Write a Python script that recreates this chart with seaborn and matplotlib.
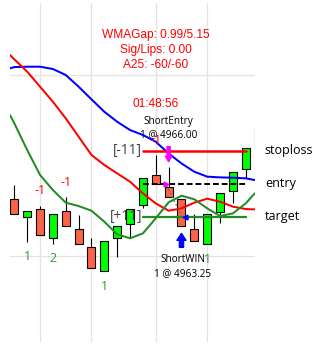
import numpy as np
import pandas as pd
import matplotlib
matplotlib.use("Agg")
import matplotlib.pyplot as plt
import seaborn as sns

# ---------------- data ----------------
opens  = [4964.71, 4963.21, 4963.93, 4961.47, 4963.74, 4962.21, 4960.72, 4958.75, 4961.47, 4962.66,
          4964.23, 4966.73, 4965.70, 4964.71, 4962.21, 4960.97, 4963.68, 4965.42, 4967.20, 4969.16]
closes = [4963.46, 4963.74, 4961.72, 4963.46, 4962.49, 4961.00, 4959.00, 4961.25, 4962.46, 4963.93,
          4966.45, 4965.98, 4964.93, 4962.49, 4961.25, 4963.46, 4965.20, 4966.95, 4968.94, 4970.74]
highs  = [4965.90, 4963.74, 4964.15, 4963.46, 4964.93, 4963.40, 4961.47, 4961.25, 4962.46, 4963.93,
          4966.45, 4968.39, 4967.42, 4964.71, 4963.50, 4963.46, 4965.20, 4966.95, 4968.94, 4970.74]
lows   = [4963.46, 4961.19, 4961.72, 4960.97, 4962.49, 4961.00, 4959.00, 4958.75, 4959.94, 4961.47,
          4963.96, 4965.98, 4964.93, 4962.49, 4961.25, 4960.97, 4962.71, 4964.43, 4966.45, 4969.16]

ma_x = [-0.34, 0, 1, 2, 3, 4, 5, 6, 7, 8, 9, 10, 11, 12, 13, 14, 15, 16, 17, 18, 18.70]
ma_blue  = [4975.58, 4975.69, 4975.72, 4975.72, 4975.53, 4975.03, 4974.06, 4973.01, 4971.98, 4971.15,
            4970.46, 4970.05, 4969.49, 4968.52, 4967.69, 4967.00, 4966.59, 4966.53, 4966.50, 4966.45, 4966.31]
ma_red   = [4976.69, 4976.33, 4975.31, 4974.06, 4972.81, 4971.43, 4969.91, 4968.39, 4967.56, 4966.86,
            4966.17, 4965.20, 4964.37, 4963.76, 4963.96, 4964.43, 4964.76, 4964.51, 4964.10, 4963.90, 4963.87]
ma_green = [4971.71, 4971.02, 4968.80, 4966.73, 4965.48, 4964.43, 4964.15, 4963.76, 4962.85, 4961.80,
            4961.47, 4961.88, 4963.13, 4964.46, 4965.01, 4964.71, 4963.96, 4963.32, 4963.54, 4964.37, 4965.20]

entry_price = 4966.00
stop_price = 4968.75
target_price = 4963.25
level_start, level_end = 10.0, 18.0

info_lines = ["WMAGap: 0.99/5.15", "Sig/Lips: 0.00", "A25: -60/-60"]
clock_text = "01:48:56"

green_labels = [(1, 4959.94, "1"), (3, 4959.81, "2"), (7, 4957.45, "1"), (15, 4959.67, "1")]
red_labels = [(2, 4965.42, "-1"), (4, 4966.09, "-1"), (11, 4969.63, "-1")]

grid_x = [2, 6, 11, 15]
grid_y = [4960, 4975]

# ---------------- figure ----------------
sns.set_style("white")
plt.rcParams["font.family"] = ["Open Sans", "DejaVu Sans"]

fig = plt.figure(figsize=(3.25, 3.45), dpi=100)
ax = fig.add_axes([10/325, 3/345, 245/325, 339/345])
ax.set_xlim(-0.337, 18.72)
ax.set_ylim(4952.86, 4981.01)

ax.set_xticks(grid_x)
ax.set_yticks(grid_y)
ax.grid(True, color="#e3e3e3", lw=0.9)
ax.tick_params(length=0, labelbottom=False, labelleft=False)
for s in ax.spines.values():
    s.set_visible(False)
ax.set_axisbelow(True)

# candles
idx = np.arange(len(opens))
o = np.array(opens); c = np.array(closes)
ax.vlines(idx, lows, highs, color="black", lw=0.8, zorder=2)
bull = c >= o
colors = np.where(bull, "#00ff00", "#ff6347")
ax.bar(idx, np.abs(c - o), bottom=np.minimum(o, c), width=0.62, color=colors,
       edgecolor="black", linewidth=0.8, zorder=3)

# moving averages
df = pd.DataFrame({"x": ma_x, "blue": ma_blue, "red": ma_red, "green": ma_green})
sns.lineplot(data=df, x="x", y="blue", color="#0000ff", lw=1.45, ax=ax, zorder=4)
sns.lineplot(data=df, x="x", y="red", color="#ff0000", lw=1.45, ax=ax, zorder=4)
sns.lineplot(data=df, x="x", y="green", color="#228b22", lw=1.45, ax=ax, zorder=4)
ax.set_xlabel(""); ax.set_ylabel("")

# trade levels
ax.plot([level_start, level_end], [stop_price, stop_price], color="#ff0000", lw=1.8, zorder=5)
ax.plot([level_start, level_end], [entry_price, entry_price], color="black", lw=1.4,
        ls=(0, (3, 1.5)), zorder=5)
ax.plot([level_start, level_end], [target_price, target_price], color="#228b22", lw=1.6, zorder=5)

lab_kw = dict(fontsize=9.8, color="#404040", va="center", ha="right", zorder=6)
ax.text(level_start - 0.05, stop_price, "[-11]", **lab_kw)
ax.text(level_start - 0.05, target_price, "[+11]", **lab_kw)

for y, t in [(stop_price, "stoploss"), (entry_price, "entry"), (target_price, "target")]:
    ax.text(19.48, y, t, fontsize=9, color="black", va="center", ha="left", clip_on=False)

# trade markers
ax.plot([11.85, 13.0], [entry_price - 0.15, target_price + 0.1], color="#228b22", lw=1.0,
        ls=(0, (1, 2)), zorder=6)
ax.plot([11.76], [entry_price], marker=">", color="#ff00ff", ms=3.5, zorder=7)
ax.plot([13.27], [target_price], marker="<", color="#0000ff", ms=3.5, zorder=7)
ax.annotate("", xy=(12.0, 4967.83), xytext=(12.0, 4969.08),
            arrowprops=dict(arrowstyle="simple,head_width=0.45,head_length=0.4,tail_width=0.22",
                            color="#ff00ff", shrinkA=0, shrinkB=0), zorder=7)
ax.annotate("", xy=(13.0, 4961.88), xytext=(13.0, 4960.72),
            arrowprops=dict(arrowstyle="simple,head_width=0.65,head_length=0.5,tail_width=0.3",
                            color="#0000ff", shrinkA=0, shrinkB=0), zorder=7)

# info texts
for i, t in enumerate(info_lines):
    ax.text(11.0, 4978.38 - i * 1.25, t, fontsize=8.6, color="#ff0000", ha="center", va="center",
            family="Liberation Sans")
ax.text(11.0, 4972.59, clock_text, fontsize=8.6, color="#ff0000", ha="center", va="center",
        family="Liberation Sans")

ax.text(12.0, 4971.21, "ShortEntry", fontsize=7.2, color="black", ha="center", va="center")
ax.text(12.0, 4970.05, "1 @ 4966.00", fontsize=7.2, color="black", ha="center", va="center")
ax.text(13.1, 4959.67, "ShortWIN", fontsize=7.2, color="black", ha="center", va="center")
ax.text(13.05, 4958.55, "1 @ 4963.25", fontsize=7.2, color="black", ha="center", va="center")

for x, y, t in green_labels:
    ax.text(x, y, t, fontsize=9, color="#339933", ha="center", va="center", zorder=8)
for x, y, t in red_labels:
    ax.text(x, y, t, fontsize=9, color="#ff0000", ha="center", va="center", zorder=8)

fig.savefig("out.png", dpi=100)
